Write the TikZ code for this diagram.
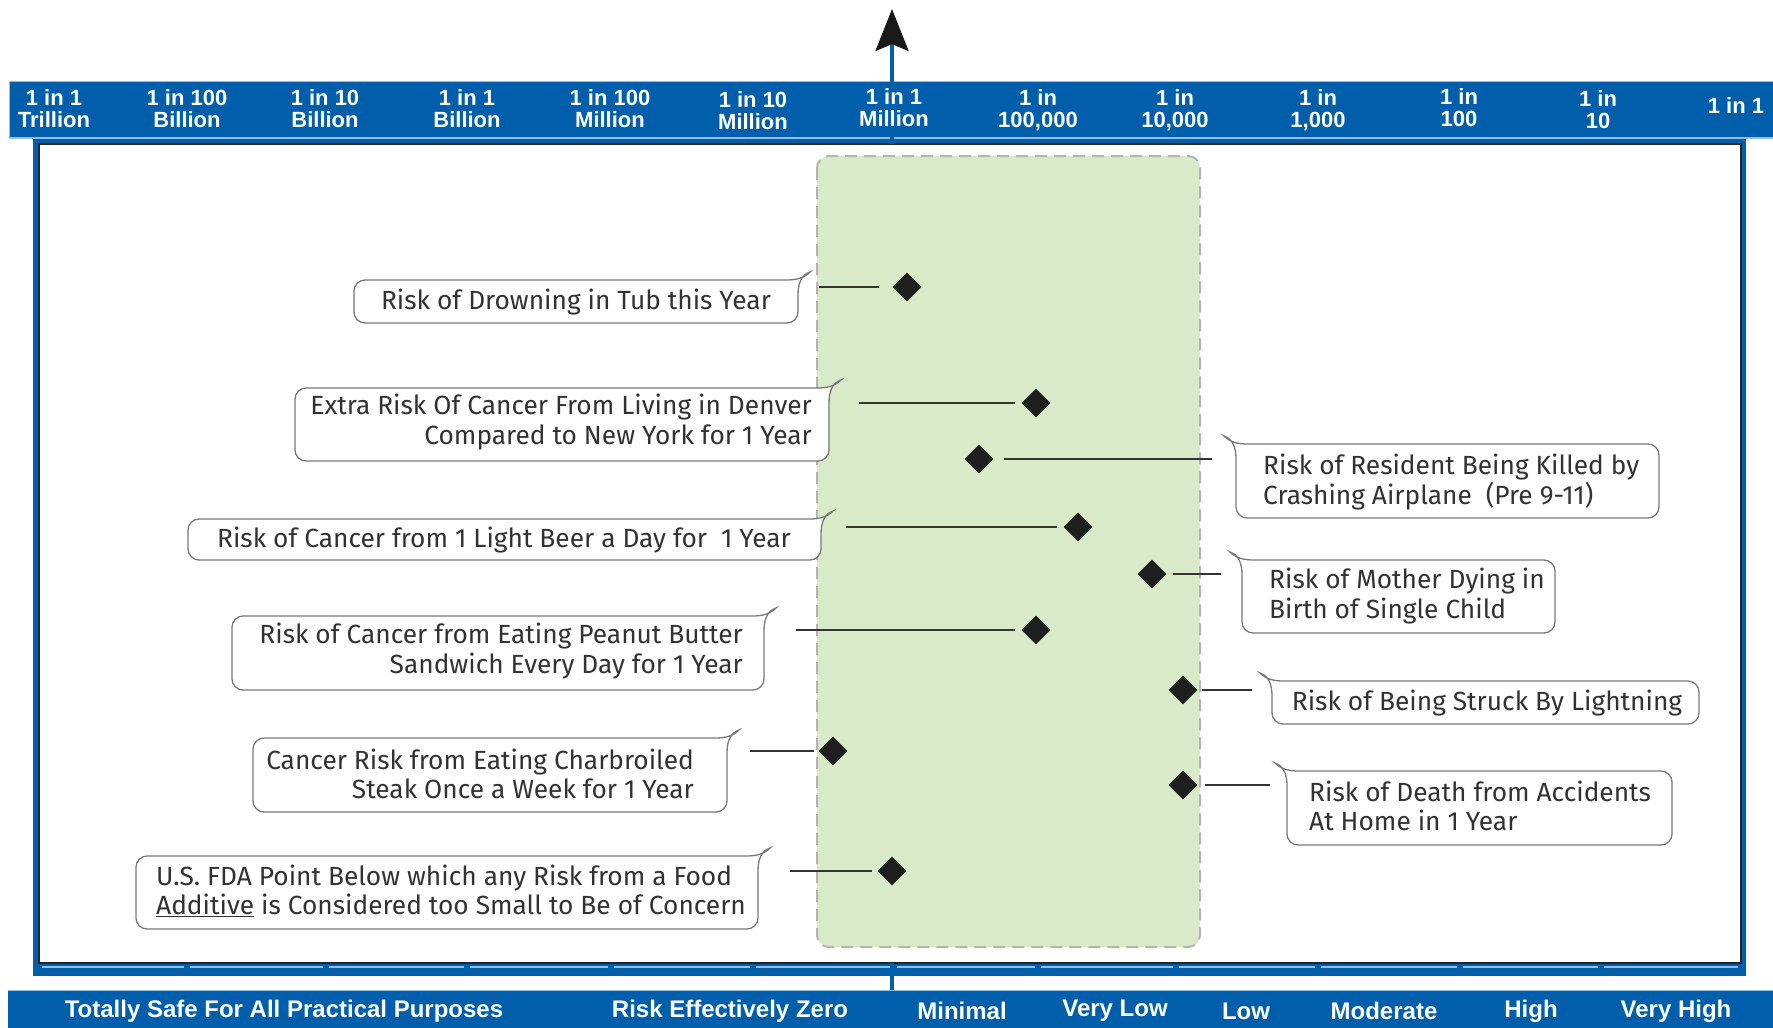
\documentclass[tikz,border=0pt]{standalone}
\usepackage{fontspec}
\setmainfont{Fira Sans}
\newfontfamily\barfont{Liberation Sans}
\usetikzlibrary{shapes.geometric,arrows.meta}

\definecolor{riskblue}{RGB}{0,94,170}
\definecolor{barrim}{RGB}{150,190,228}
\definecolor{zonegreen}{RGB}{217,234,200}
\definecolor{zonedash}{RGB}{180,180,180}
\definecolor{bubbleline}{RGB}{120,120,120}
\definecolor{inktext}{RGB}{50,50,50}

% speech bubble with its curled tail at the top right
\newcommand\hookright[4]{%
  \draw[bubble] (#3-11,#4) -- (#1+11,#4) .. controls (#1+5,#4) and (#1,#4-5) .. (#1,#4-11)
    -- (#1,#2+11) .. controls (#1,#2+5) and (#1+5,#2) .. (#1+11,#2) -- (#3-12,#2)
    .. controls (#3-1,#2) and (#3+6,#2-2) .. (#3+12,#2-8)
    .. controls (#3+3,#2-5) and (#3,#2+4) .. (#3,#2+15)
    -- (#3,#4-11) .. controls (#3,#4-5) and (#3-5,#4) .. (#3-11,#4) -- cycle;}
% speech bubble with its curled tail at the top left
\newcommand\hookleft[4]{%
  \draw[bubble] (#1+11,#4) -- (#3-11,#4) .. controls (#3-5,#4) and (#3,#4-5) .. (#3,#4-11)
    -- (#3,#2+11) .. controls (#3,#2+5) and (#3-5,#2) .. (#3-11,#2) -- (#1+12,#2)
    .. controls (#1+1,#2) and (#1-6,#2-2) .. (#1-12,#2-8)
    .. controls (#1-3,#2-5) and (#1,#2+4) .. (#1,#2+15)
    -- (#1,#4-11) .. controls (#1,#4-5) and (#1+5,#4) .. (#1+11,#4) -- cycle;}

\tikzset{
  bubble/.style={draw=bubbleline, line width=1.3pt, fill=white},
  callout/.style={font=\fontsize{26.3}{29.5}\selectfont, text=inktext, inner sep=0pt},
  marker/.style={diamond, fill=black!88, minimum width=29pt, minimum height=29pt, inner sep=0pt},
  lead/.style={draw=black!80, line width=1.6pt},
  toplabel/.style={font=\barfont\bfseries\fontsize{22}{22}\selectfont, text=white, align=center, inner sep=0pt},
  bandlabel/.style={font=\barfont\bfseries\fontsize{24}{24}\selectfont, text=white, inner sep=0pt},
  zone/.style={fill=zonegreen, draw=zonedash, line width=2pt, dash pattern=on 12pt off 7pt, rounded corners=12pt},
}

\begin{document}
\begin{tikzpicture}[x=1pt,y=-1pt]
\useasboundingbox (0,0) rectangle (1773,1028);

% upper scale bar
\fill[riskblue] (9,81) rectangle (1780,138);
\draw[barrim, line width=1.5pt] (9,138) -- (1780,138);
\draw[barrim, line width=1pt] (9,81) -- (1780,81) (9,81) -- (9,138);

% chart frame
\fill[riskblue] (33,139) rectangle (1746,976);
\draw[black!85, line width=2.5pt, fill=white] (39,144) rectangle (1741,963);
\foreach \a/\b in {39/187,187/326,326/467,467/611,611/753,753/894,894/1038,1038/1176,1176/1318,1318/1460,1460/1601,1601/1741}
  \draw[barrim, line width=1.5pt] (\a+3,967) -- (\b-3,967);

% lower band
\fill[riskblue] (8,990) rectangle (1780,1030);
\draw[barrim, line width=1pt] (8,990) -- (1780,990);
\draw[riskblue, line width=4pt] (892,963) -- (892,990);

% safe zone
\draw[zone] (817,156) rectangle (1200,947);

% axis arrow
\coordinate (axfoot) at (892,144);
\coordinate (axtip) at (892,9);
\draw[riskblue, line width=4pt, -{Stealth[length=42pt, width=33pt, inset=7pt, black!90]}] (axfoot) -- (axtip);

% scale labels
\node[toplabel] (s1) at (54,109) {1 in 1\\Trillion};
\node[toplabel] (s2) at (187,109) {1 in 100\\Billion};
\node[toplabel] (s3) at (325,109) {1 in 10\\Billion};
\node[toplabel] (s4) at (467,109) {1 in 1\\Billion};
\node[toplabel] (s5) at (610,109) {1 in 100\\Million};
\node[toplabel] (s6) at (753,111) {1 in 10\\Million};
\node[toplabel] (s7) at (894,108) {1 in 1\\Million};
\node[toplabel] (s8) at (1038,110) {1 in\\100,000};
\node[toplabel] (s9) at (1175,110) {1 in\\10,000};
\node[toplabel] (s10) at (1318,110) {1 in\\1,000};
\node[toplabel] (s11) at (1459,108) {1 in\\100};
\node[toplabel] (s12) at (1598,110) {1 in\\10};
\node[toplabel] (s13) at (1736,106) {1 in 1};

% band labels
\node[bandlabel] (b1) at (284,1011) {Totally Safe For All Practical Purposes};
\node[bandlabel] (b2) at (730,1011) {Risk Effectively Zero};
\node[bandlabel] (b3) at (962,1011) {Minimal};
\node[bandlabel] (b4) at (1115,1011) {Very Low};
\node[bandlabel] (b5) at (1246,1011) {Low};
\node[bandlabel] (b6) at (1384,1011) {Moderate};
\node[bandlabel] (b7) at (1531,1011) {High};
\node[bandlabel] (b8) at (1676,1011) {Very High};

% callout bubbles
\hookright{354}{280}{798}{323}
\hookright{295}{388}{829}{461}
\hookleft{1236}{444}{1659}{518}
\hookright{188}{519}{821}{560}
\hookleft{1242}{560}{1555}{633}
\hookright{232}{616}{764}{690}
\hookleft{1272}{681}{1699}{724}
\hookright{253}{738}{727}{812}
\hookleft{1287}{771}{1672}{845}
\hookright{136}{856}{758}{929}

% callout texts
\node[callout] (t1) at (576,302) {Risk of Drowning in Tub this Year};
\node[callout, align=right, anchor=east] (t2) at (812,422) {Extra Risk Of Cancer From Living in Denver\\Compared to New York for 1 Year};
\node[callout, align=left, anchor=west] (t3) at (1263,482) {Risk of Resident Being Killed by\\Crashing Airplane\ \ (Pre 9-11)};
\node[callout] (t4) at (504,540) {Risk of Cancer from 1 Light Beer a Day for\ \ 1 Year};
\node[callout, align=left, anchor=west] (t5) at (1269,596) {Risk of Mother Dying in\\Birth of Single Child};
\node[callout, align=right, anchor=east] (t6) at (743,651) {Risk of Cancer from Eating Peanut Butter\\Sandwich Every Day for 1 Year};
\node[callout] (t7) at (1487,703) {Risk of Being Struck By Lightning};
\node[callout, align=right, anchor=east] (t8) at (694,774) {Cancer Risk from Eating Charbroiled\\Steak Once a Week for 1 Year};
\node[callout, align=left, anchor=west] (t9) at (1309,806) {Risk of Death from Accidents\\At Home in 1 Year};
\node[callout, align=left, anchor=west] (t10) at (156,891) {U.S. FDA Point Below which any Risk from a Food\\\underline{Additive} is Considered too Small to Be of Concern};

% risk markers
\node[marker] (d1) at (907,287) {};
\node[marker] (d2) at (1036,403) {};
\node[marker] (d3) at (979,459) {};
\node[marker] (d4) at (1078,527) {};
\node[marker] (d5) at (1152,574) {};
\node[marker] (d6) at (1036,630) {};
\node[marker] (d7) at (1183,690) {};
\node[marker] (d8) at (833,751) {};
\node[marker] (d9) at (1183,785) {};
\node[marker] (d10) at (892,871) {};

% leader ends beside the bubble tails
\coordinate (e1) at (819,287);
\coordinate (e2) at (859,403);
\coordinate (e3) at (1212,459);
\coordinate (e4) at (846,527);
\coordinate (e5) at (1221,574);
\coordinate (e6) at (796,630);
\coordinate (e7) at (1252,690);
\coordinate (e8) at (750,751);
\coordinate (e9) at (1270,785);
\coordinate (e10) at (790,871);

% leaders
\draw[lead, shorten >=13pt] (e1) -- (d1.west);
\draw[lead, shorten >=6pt] (e2) -- (d2.west);
\draw[lead, shorten <=10pt] (d3.east) -- (e3);
\draw[lead, shorten >=6pt] (e4) -- (d4.west);
\draw[lead, shorten <=6pt] (d5.east) -- (e5);
\draw[lead, shorten >=6pt] (e6) -- (d6.west);
\draw[lead, shorten <=4pt] (d7.east) -- (e7);
\draw[lead, shorten >=4pt] (e8) -- (d8.west);
\draw[lead, shorten <=7pt] (d9.east) -- (e9);
\draw[lead, shorten >=5pt] (e10) -- (d10.west);
\end{tikzpicture}
\end{document}
